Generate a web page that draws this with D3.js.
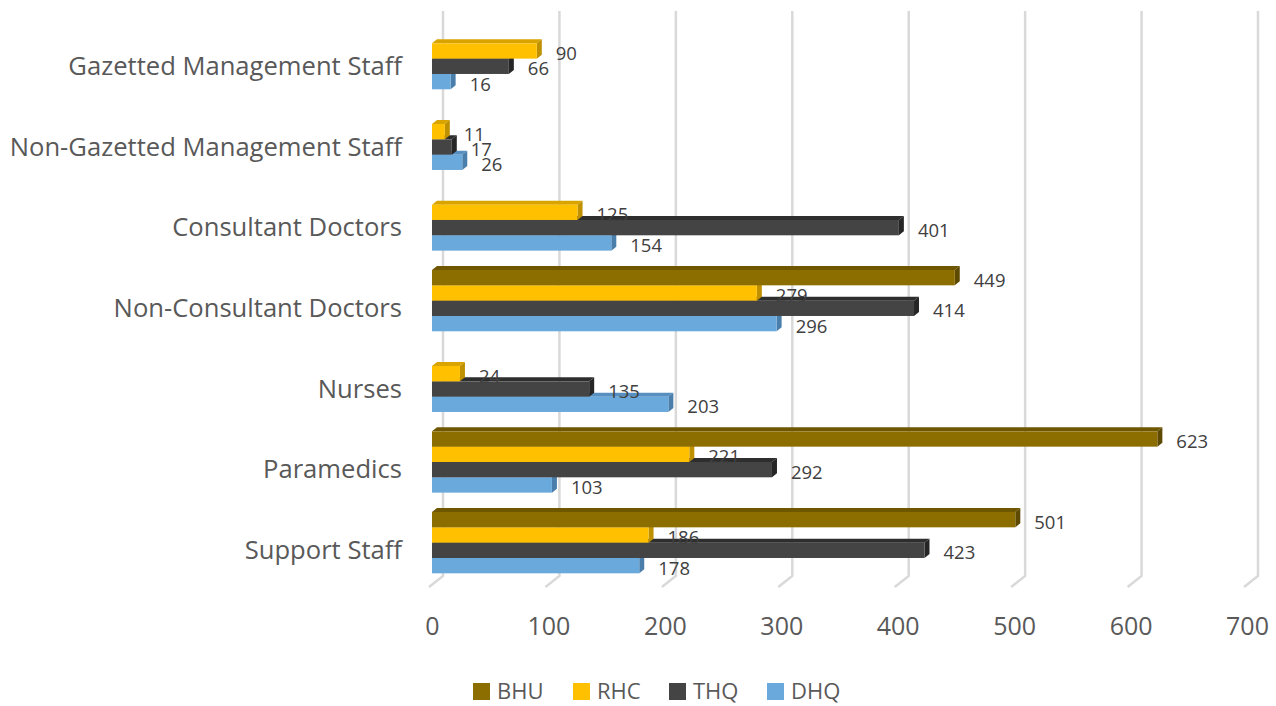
<!DOCTYPE html>
<html>
<head>
<meta charset="utf-8">
<script src="https://cdn.jsdelivr.net/npm/d3@7"></script>
<style>
  body { margin: 0; background: #fff; }
  svg text { font-family: "Open Sans", sans-serif; }
</style>
</head>
<body>
<script>
// staff by facility type
var categories = ["Gazetted Management Staff", "Non-Gazetted Management Staff", "Consultant Doctors",
    "Non-Consultant Doctors", "Nurses", "Paramedics", "Support Staff"];
var series = ["BHU", "RHC", "THQ", "DHQ"];
var bhu = [0, 0, 0, 449, 0, 623, 501];
var rhc = [90, 11, 125, 279, 24, 221, 186];
var thq = [66, 17, 401, 414, 135, 292, 423];
var dhq = [16, 26, 154, 296, 203, 103, 178];
var xTicks = [0, 100, 200, 300, 400, 500, 600, 700];

var values = { BHU: bhu, RHC: rhc, THQ: thq, DHQ: dhq };
var colors = {
    BHU: { front: "#8c6d00", top: "#6f5600", side: "#5e4900" },
    RHC: { front: "#ffc000", top: "#d9a400", side: "#bf9000" },
    THQ: { front: "#444444", top: "#2e2e2e", side: "#262626" },
    DHQ: { front: "#6aa9db", top: "#5790c0", side: "#4a7eab" }
};

var width = 1276, height = 706;
var depthX = 5, depthY = 4;   // 3d bar depth
var wallX = 11, wallY = 11;   // back wall offset

var svg = d3.select("body").append("svg")
    .attr("width", width)
    .attr("height", height);

var x = d3.scaleLinear().domain([0, 700]).range([432, 1247]);

var y = d3.scaleBand()
    .domain(categories)
    .range([18.3, 18.3 + 7 * 80.67])
    .paddingInner(0.24)
    .paddingOuter(0.12);

var y1 = d3.scaleBand().domain(series).range([0, y.bandwidth()]);

// gridlines on back wall, bending to the floor
var floorY = 576;
svg.append("g").selectAll("path")
    .data(xTicks)
    .enter().append("path")
    .attr("d", function(d) {
        var xb = x(d) + wallX;
        return "M" + xb + ",11 L" + xb + "," + floorY + " L" + (xb - 14) + "," + (floorY + wallY);
    })
    .attr("fill", "none")
    .attr("stroke", "#d9d9d9")
    .attr("stroke-width", 2.5);

// flatten data, draw bottom bar of each group first so upper bars cover lower top faces
var bars = [];
categories.forEach(function(c, i) {
    series.slice().reverse().forEach(function(s) {
        bars.push({ cat: c, series: s, value: values[s][i] });
    });
});
bars = bars.filter(function(d) { return d.value > 0; });

var g = svg.append("g");
var barG = g.selectAll("g.bar")
    .data(bars)
    .enter().append("g")
    .attr("class", "bar");

barG.append("path")   // top face
    .attr("d", function(d) {
        var x0 = x(0), x1 = x(d.value), yy = y(d.cat) + y1(d.series);
        return "M" + x0 + "," + yy + " L" + (x0 + depthX) + "," + (yy - depthY) +
            " L" + (x1 + depthX) + "," + (yy - depthY) + " L" + x1 + "," + yy + "Z";
    })
    .attr("fill", function(d) { return colors[d.series].top; });

barG.append("path")   // right face
    .attr("d", function(d) {
        var x1 = x(d.value), yy = y(d.cat) + y1(d.series), h = y1.bandwidth();
        return "M" + x1 + "," + yy + " L" + (x1 + depthX) + "," + (yy - depthY) +
            " L" + (x1 + depthX) + "," + (yy + h - depthY) + " L" + x1 + "," + (yy + h) + "Z";
    })
    .attr("fill", function(d) { return colors[d.series].side; });

barG.append("rect")   // front face
    .attr("x", x(0))
    .attr("y", function(d) { return y(d.cat) + y1(d.series); })
    .attr("width", function(d) { return x(d.value) - x(0); })
    .attr("height", y1.bandwidth())
    .attr("fill", function(d) { return colors[d.series].front; });

// data labels
svg.append("g").selectAll("text")
    .data(bars)
    .enter().append("text")
    .attr("x", function(d) { return x(d.value) + depthX + 14; })
    .attr("y", function(d) { return y(d.cat) + y1(d.series) + y1.bandwidth() / 2 + 9; })
    .attr("font-size", "18.5px")
    .attr("fill", "#404040")
    .text(function(d) { return d.value; });

// x axis labels
var xAxis = svg.append("g")
    .attr("transform", "translate(0,617)")
    .call(d3.axisBottom(x).tickValues(xTicks).tickSize(0).tickPadding(0));
xAxis.select(".domain").remove();
xAxis.selectAll("text")
    .attr("font-size", "25px")
    .attr("font-family", "'Open Sans', sans-serif")
    .attr("fill", "#595959");

// category labels
var yAxis = svg.append("g")
    .attr("transform", "translate(402,8)")
    .call(d3.axisLeft(y).tickSize(0).tickPadding(0));
yAxis.select(".domain").remove();
yAxis.selectAll("text")
    .attr("font-size", "25.6px")
    .attr("font-family", "'Open Sans', sans-serif")
    .attr("fill", "#595959");

// legend
var legendX = [473, 573, 669, 767];
var legend = svg.append("g").selectAll("g")
    .data(series)
    .enter().append("g")
    .attr("transform", function(d, i) { return "translate(" + legendX[i] + ",683)"; });

legend.append("rect")
    .attr("width", 17)
    .attr("height", 17)
    .attr("fill", function(d) { return colors[d].front; });

legend.append("text")
    .attr("x", 24)
    .attr("y", 16)
    .attr("font-size", "22px")
    .attr("fill", "#595959")
    .text(function(d) { return d; });
</script>
</body>
</html>
